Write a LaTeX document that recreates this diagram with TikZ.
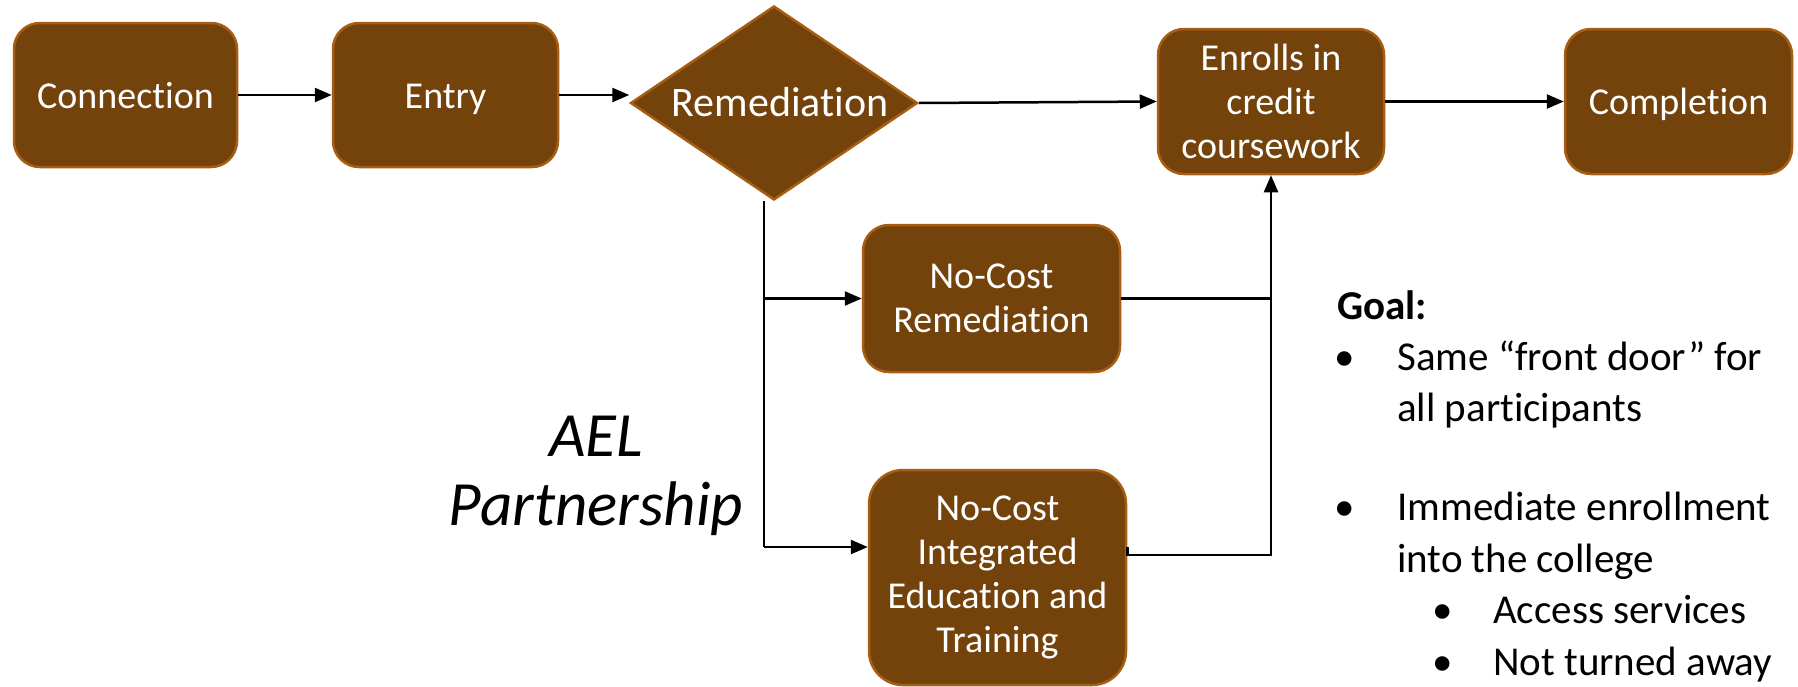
\documentclass[tikz,border=0pt]{standalone}
\usepackage{fontspec}
\setmainfont{Carlito}[Ligatures=NoCommon]
\usetikzlibrary{shapes.geometric,arrows.meta}
\definecolor{boxfill}{RGB}{116,66,11}
\definecolor{boxline}{RGB}{168,94,18}
\begin{document}
\begin{tikzpicture}[x=1pt,y=-1pt,
  box/.style={draw=boxline, line width=2.5pt, fill=boxfill, rounded corners=26pt, text=white, align=center, inner sep=0pt, font=\fontsize{38}{44}\selectfont},
  oneline/.style={text height=30pt, text depth=4pt},
  conn/.style={line width=2.5pt, -{Triangle[length=17pt,width=14pt]}},
  plain/.style={line width=2.5pt},
  goaltext/.style={anchor=base west, inner sep=0pt, font=\fontsize{41}{50}\selectfont},
  bul/.style={anchor=base, inner sep=0pt, font=\fontsize{41}{50}\selectfont},
  ael/.style={anchor=base, inner sep=0pt, font=\fontsize{63}{69}\selectfont\itshape}]
\useasboundingbox (0,0) rectangle (1798,686);

% boxes
\node[box, oneline, minimum width=223pt, minimum height=144pt] (conn) at (125.5,95) {Connection};
\node[box, oneline, minimum width=225pt, minimum height=144pt] (entry) at (445.5,95) {Entry};
\node[diamond, draw=boxline, line width=2.5pt, fill=boxfill, inner sep=0pt, aspect=1.48,
      minimum width=287pt, minimum height=194pt] (rem) at (774,103) {};
\node[text=white, inner sep=0pt, anchor=base, font=\fontsize{42}{48}\selectfont] (remtext) at (780,116) {Remediation};
\node[box, minimum width=226pt, minimum height=145pt] (enrolls) at (1271,101.5) {Enrolls in\\credit\\coursework};
\node[box, oneline, minimum width=227pt, minimum height=145pt] (comp) at (1678.5,101.5) {Completion};
\node[box, minimum width=257pt, minimum height=147pt] (ncr) at (991.5,298.5) {No-Cost\\Remediation};
\node[box, rounded corners=34pt, minimum width=257pt, minimum height=215pt] (iet) at (997.5,577.5) {No-Cost\\Integrated\\Education and\\Training};

% connectors
\draw[conn] (conn.east) -- (entry.west);
\draw[conn] (entry.east) -- (entry.east -| rem.west);
\draw[conn] (rem.east) -- (enrolls.west);
\draw[conn] (enrolls.east) -- (comp.west);
\coordinate (trunk) at (764,547);
\draw[plain] (rem.south -| trunk) -- (trunk);
\draw[conn] (trunk |- ncr.west) -- (ncr.west);
\draw[conn] (trunk) -- (trunk -| iet.west);
\draw[plain] (ncr.east) -- (ncr.east -| enrolls.south);
\draw[conn] (iet.east |- trunk) -- ++(0,8) -| (enrolls.south);

% AEL Partnership
\node[ael] (ael1) at (596,456) {AEL};
\node[ael] (ael2) at (596,525) {Partnership};

% Goal list
\node[goaltext, font=\fontsize{41}{50}\selectfont\bfseries] (goal) at (1337,319) {Goal:};
\node[bul] (b1) at (1345,370) {•};
\node[goaltext] (t1a) at (1397,370) {Same “front door” for};
\node[goaltext] (t1b) at (1397,421) {all participants};
\node[bul] (b2) at (1345,520) {•};
\node[goaltext] (t2a) at (1397,520) {Immediate enrollment};
\node[goaltext] (t2b) at (1397,572) {into the college};
\node[bul] (b3) at (1443,623) {•};
\node[goaltext] (t3) at (1493,623) {Access services};
\node[bul] (b4) at (1443,675) {•};
\node[goaltext] (t4) at (1493,675) {Not turned away};
\end{tikzpicture}
\end{document}
